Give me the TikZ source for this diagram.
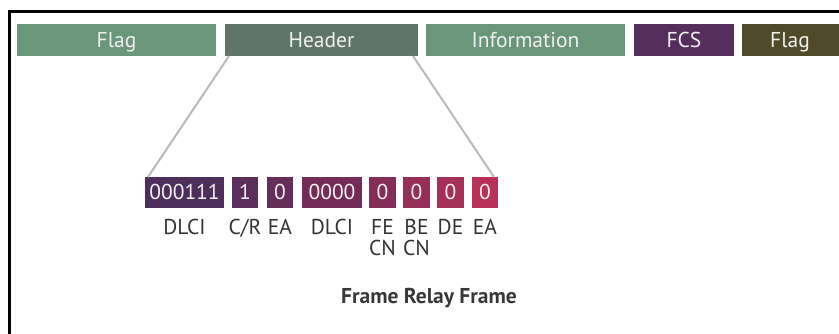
\documentclass[tikz,border=0pt]{standalone}
\usepackage{fontspec}
\setmainfont{PT Sans}
\begin{document}
\begin{tikzpicture}[x=1pt,y=-1pt,
  field/.style={draw=none, inner sep=0pt, anchor=base, text=white!94!black, font=\fontsize{21.5}{24}\selectfont},
  lbl/.style={inner sep=0pt, anchor=base, text=black!80, font=\fontsize{21.5}{21.5}\selectfont, align=center},
  zoomline/.style={draw=black!27, line width=2pt}]
\definecolor{flaggreen}{HTML}{6A967A}
\definecolor{hdrgreen}{HTML}{60756A}
\definecolor{fcspurple}{HTML}{552F5C}
\definecolor{flagolive}{HTML}{514A29}
\definecolor{b1}{HTML}{4E2E5A}
\definecolor{b2}{HTML}{5B2D5A}
\definecolor{b3}{HTML}{662D58}
\definecolor{b4}{HTML}{732C57}
\definecolor{b5}{HTML}{842E57}
\definecolor{b6}{HTML}{962F58}
\definecolor{b7}{HTML}{A43058}
\definecolor{b8}{HTML}{B8315A}
\useasboundingbox (0,0) rectangle (839,333);
\begin{scope}
\clip (0,0) rectangle (839,333);
\draw[line width=2.8pt, black] (9.5,11.5) rectangle (860,360);

% frame fields
\fill[flaggreen] (17,24) rectangle (216,56);
\node[field] (flag1) at (116.5,47) {Flag};
\fill[hdrgreen] (225,24) rectangle (418,56);
\node[field] (hdr) at (321.5,47) {Header};
\coordinate (hdrL) at (229,56);
\coordinate (hdrR) at (413,56);
\fill[flaggreen] (426,24) rectangle (625,56);
\node[field] (info) at (525.5,47) {Information};
\fill[fcspurple] (634,24) rectangle (734,56);
\node[field] (fcs) at (684,47) {FCS};
\fill[flagolive] (742,24) rectangle (850,56);
\node[field] (flag2) at (790,47) {Flag};

% header bits
\fill[b1] (145,177) rectangle (224,208);
\node[field] (d1) at (184.5,199.5) {000111};
\fill[b2] (232,177) rectangle (258,208);
\node[field] (cr) at (245,199.5) {1};
\fill[b3] (267,177) rectangle (293,208);
\node[field] (ea1) at (280,199.5) {0};
\fill[b4] (302,177) rectangle (362,208);
\node[field] (d2) at (332,199.5) {0000};
\fill[b5] (369,177) rectangle (396,208);
\node[field] (fe) at (382.5,199.5) {0};
\fill[b6] (403,177) rectangle (430,208);
\node[field] (be) at (416.5,199.5) {0};
\fill[b7] (437,177) rectangle (464,208);
\node[field] (de) at (450.5,199.5) {0};
\fill[b8] (472,177) rectangle (498,208);
\node[field] (ea2) at (485,199.5) {0};
\coordinate (bitsL) at (148,177);
\coordinate (bitsR) at (494,177);

% expansion lines
\draw[zoomline] (hdrL) -- (bitsL);
\draw[zoomline] (hdrR) -- (bitsR);

% bit labels (two-line labels sit on the baseline of their second line)
\node[lbl] (l1) at (184.5,234) {DLCI};
\node[lbl] (l2) at (245,234) {C/R};
\node[lbl] (l3) at (280,234) {EA};
\node[lbl] (l4) at (332,234) {DLCI};
\node[lbl] (l5) at (382.5,255.5) {FE\\CN};
\node[lbl] (l6) at (416.5,255.5) {BE\\CN};
\node[lbl] (l7) at (450.5,234) {DE};
\node[lbl] (l8) at (485,234) {EA};

\node[inner sep=0pt, anchor=base, text=black!78, font=\fontsize{21.5}{24}\selectfont\bfseries] (title) at (429,303) {Frame Relay Frame};
\end{scope}
\end{tikzpicture}
\end{document}
